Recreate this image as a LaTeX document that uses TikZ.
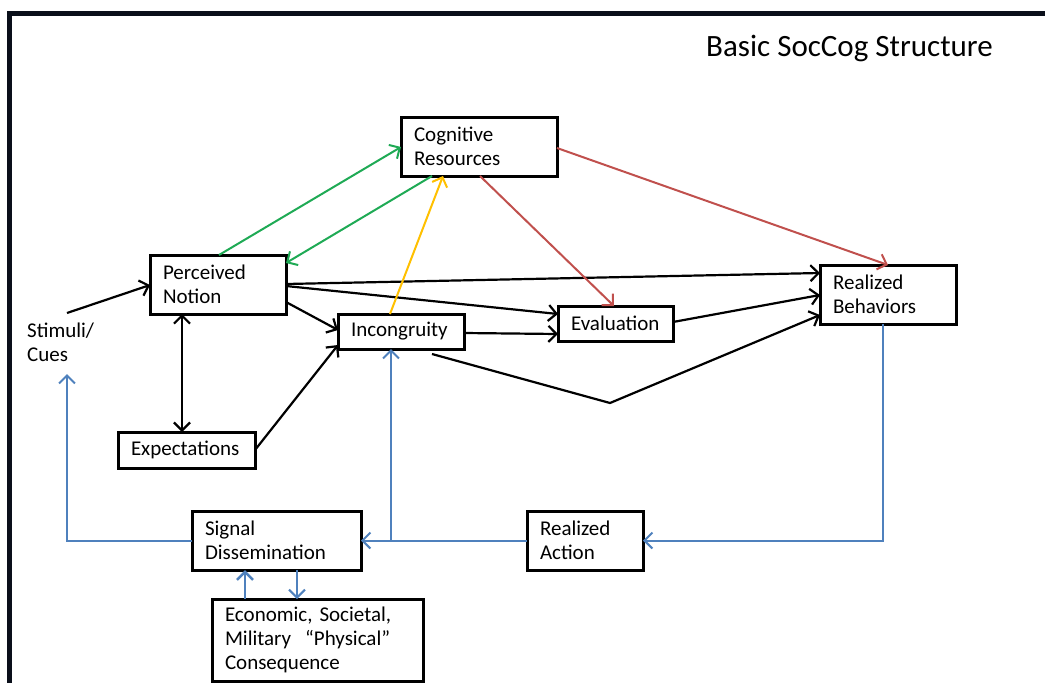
\documentclass[tikz,border=0pt]{standalone}
\usepackage{fontspec}
\setmainfont{Carlito}
\usetikzlibrary{arrows.meta}

\definecolor{frameink}{HTML}{0A0F1A}
\definecolor{resgreen}{HTML}{1FAA55}
\definecolor{resred}{HTML}{C0504D}
\definecolor{resyellow}{HTML}{FFC000}
\definecolor{fbblue}{HTML}{4F81BD}

\tikzset{
  box/.style={draw=black, line width=3pt, rectangle, anchor=north west,
    inner xsep=13pt, inner ysep=0pt, outer sep=0pt, align=left,
    font=\fontsize{21}{24}\selectfont},
  tipbarb/.style={-{Straight Barb[length=8pt,width=16pt]}},
  link/.style={draw=black, line width=2.2pt, tipbarb},
  twoway/.style={draw=black, line width=2.2pt,
    {Straight Barb[length=8pt,width=16pt]}-{Straight Barb[length=8pt,width=16pt]}},
  greenlink/.style={draw=resgreen, line width=2pt, tipbarb},
  redlink/.style={draw=resred, line width=2pt, tipbarb},
  yellowlink/.style={draw=resyellow, line width=2pt, tipbarb},
  bluelink/.style={draw=fbblue, line width=2pt, tipbarb},
}

\begin{document}
\begin{tikzpicture}[x=1pt, y=-1pt]
  \useasboundingbox (0,0) rectangle (1045,683);

  % outer frame (top and left edges)
  \draw[frameink, line width=5pt] (9,683) -- (9,13) -- (1045,13);

  % title
  \node[anchor=base east, inner sep=0pt, font=\fontsize{31}{35}\selectfont]
    (title) at (993,56) {Basic SocCog Structure};

  % boxes
  \node[box, minimum width=156pt, minimum height=59pt, text width=130pt]
    (cr) at (401,117) {Cognitive\\Resources};
  \node[box, minimum width=136pt, minimum height=59pt, text width=110pt]
    (pn) at (150,255) {Perceived\\Notion};
  \node[box, minimum width=126pt, minimum height=35pt, text width=100pt]
    (inc) at (338,314) {Incongruity};
  \node[box, minimum width=115pt, minimum height=35pt, text width=89pt]
    (eval) at (558,306) {Evaluation};
  \node[box, minimum width=136pt, minimum height=59pt, text width=110pt]
    (rb) at (820,265) {Realized\\Behaviors};
  \node[box, minimum width=137pt, minimum height=36pt, text width=111pt]
    (exp) at (118,432) {Expectations};
  \node[box, minimum width=169pt, minimum height=59pt, text width=143pt]
    (sig) at (192,511) {Signal\\Dissemination};
  \node[box, minimum width=116pt, minimum height=59pt, text width=90pt]
    (ra) at (527,511) {Realized\\Action};
  \node[box, minimum width=211pt, minimum height=82pt, text width=185pt]
    (cons) at (212,599) {Economic, Societal,\\Military \ ``Physical''\\Consequence};

  % free text
  \node[anchor=north west, inner sep=0pt, align=left,
    font=\fontsize{21}{24}\selectfont] (stim) at (27,323) {Stimuli/\\Cues};

  % helper points
  \coordinate (stimtop) at ([shift={(40,-10)}]stim.north west);
  \coordinate (stimfoot) at ([shift={(40,51)}]stim.north west);
  \coordinate (dip) at (610,403);
  \coordinate (incfoot) at ([shift={(53,0)}]inc.south west);
  \coordinate (rbfoot) at ([shift={(63,0)}]rb.south west);
  \coordinate (cup) at ([shift={(33,0)}]cons.north west);
  \coordinate (cdn) at ([shift={(85,0)}]cons.north west);

  % black connectors
  \draw[link] (stimtop) -- ([shift={(0,30)}]pn.north west);
  \draw[twoway] ([shift={(32,0)}]pn.south west) -- ([shift={(64,0)}]exp.north west);
  \draw[link] ([shift={(0,18)}]exp.north east) -- ([shift={(0,31)}]inc.north west);
  \draw[link] ([shift={(0,47)}]pn.north east) -- ([shift={(0,16)}]inc.north west);
  \draw[link] ([shift={(0,29)}]pn.north east) -- ([shift={(0,8)}]rb.north west);
  \draw[link] ([shift={(0,31)}]pn.north east) -- ([shift={(0,8)}]eval.north west);
  \draw[link] ([shift={(0,19)}]inc.north east) -- ([shift={(0,28)}]eval.north west);
  \draw[link] ([shift={(0,16)}]eval.north east) -- ([shift={(0,30)}]rb.north west);
  \draw[link] ([shift={(94,5)}]inc.south west) -- (dip) -- ([shift={(0,50)}]rb.north west);

  % resource connectors
  \draw[greenlink] ([shift={(69,0)}]pn.north west) -- ([shift={(0,30)}]cr.north west);
  \draw[greenlink] ([shift={(31,0)}]cr.south west) -- ([shift={(0,8)}]pn.north east);
  \draw[yellowlink] ([shift={(52,0)}]inc.north west) -- ([shift={(42,0)}]cr.south west);
  \draw[redlink] ([shift={(79,0)}]cr.south west) -- ([shift={(56,0)}]eval.north west);
  \draw[redlink] ([shift={(0,31)}]cr.north east) -- ([shift={(68,0)}]rb.north west);

  % feedback loop
  \draw[bluelink] (rbfoot) |- (ra.east);
  \draw[bluelink] (ra.west) -- (sig.east);
  \draw[bluelink] (incfoot |- ra.west) -- (incfoot);
  \draw[bluelink] (sig.west) -| (stimfoot);
  \draw[bluelink, line width=2.6pt] (cup) -- (cup |- sig.south);
  \draw[bluelink] (cdn |- sig.south) -- (cdn);
\end{tikzpicture}
\end{document}
